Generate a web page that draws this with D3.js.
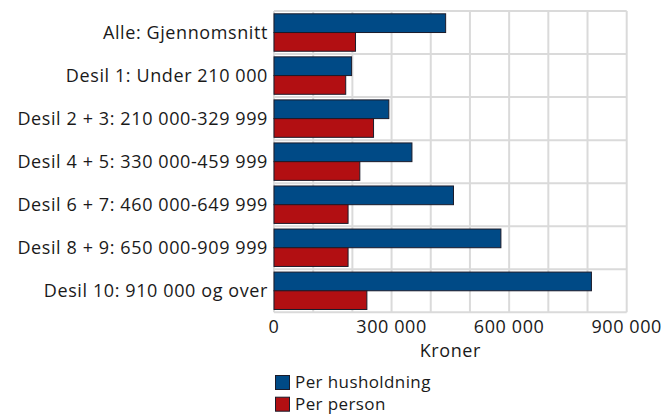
<!DOCTYPE html>
<html><head><meta charset="utf-8">
<script src="https://cdn.jsdelivr.net/npm/d3@7"></script>
<style>
body{margin:0;background:#fff;}
text{font-family:"Open Sans","Noto Sans",sans-serif;fill:#1a1a1a;letter-spacing:0.6px;}
</style></head><body>
<svg id="c" width="664" height="415"></svg>
<script>
const categories = ["Alle: Gjennomsnitt","Desil 1: Under 210 000","Desil 2 + 3: 210 000-329 999","Desil 4 + 5: 330 000-459 999","Desil 6 + 7: 460 000-649 999","Desil 8 + 9: 650 000-909 999","Desil 10: 910 000 og over"];
const perHusholdning = [438000,198000,293000,352000,458000,579000,810000];
const perPerson = [208000,183000,254000,219000,189000,189000,237000];
const seriesNames = ["Per husholdning","Per person"];
const tickValues = [0,300000,600000,900000];
const colors = ["#004a86","#b20f12"];

const svg = d3.select("#c");
const L=274, R=626.7, T=11, B=312.3;
const FS = 18;
const x = d3.scaleLinear().domain([0,900000]).range([L,R]);
const y = d3.scaleBand().domain(categories).range([T,B]).paddingInner(0).paddingOuter(0);
const sub = d3.scaleBand().domain(seriesNames).range([0,y.bandwidth()]).paddingInner(0).paddingOuter(0.15);

const g = svg.append("g");
// grid
g.selectAll(".vg").data(d3.range(0,900001,100000)).enter().append("line")
 .attr("x1",d=>x(d)).attr("x2",d=>x(d)).attr("y1",T).attr("y2",B)
 .attr("stroke","#dadada").attr("stroke-width",2);
g.selectAll(".hg").data(d3.range(categories.length+1)).enter().append("line")
 .attr("x1",L).attr("x2",R).attr("y1",i=>T+i*y.step()).attr("y2",i=>T+i*y.step())
 .attr("stroke","#dadada").attr("stroke-width",2);

const data = [perHusholdning, perPerson];
data.forEach((vals,si)=>{
  g.selectAll(".b"+si).data(vals).enter().append("rect")
   .attr("x",x(0)).attr("y",(d,i)=>y(categories[i])+sub(seriesNames[si]))
   .attr("width",d=>x(d)-x(0)).attr("height",sub.bandwidth())
   .attr("fill",colors[si]).attr("stroke","#1b1b2a").attr("stroke-width",1);
});

// category labels
g.selectAll(".cl").data(categories).enter().append("text")
 .attr("x",L-6).attr("y",d=>y(d)+y.bandwidth()/2).attr("dy","0.35em")
 .attr("text-anchor","end").attr("font-size",FS).text(d=>d);

// x tick labels
const fmt = v => v===0 ? "0" : d3.format(",")(v).replace(/,/g," ");
g.selectAll(".tl").data(tickValues).enter().append("text")
 .attr("x",d=>x(d)).attr("y",327).attr("dy","0.35em").attr("text-anchor","middle")
 .attr("font-size",FS).text(fmt);
g.append("text").attr("x",(L+R)/2).attr("y",351).attr("dy","0.35em")
 .attr("text-anchor","middle").attr("font-size",FS).text("Kroner");

// legend
seriesNames.forEach((s,i)=>{
  const ly = 375 + i*21.7;
  g.append("rect").attr("x",275.5).attr("y",ly+0.5).attr("width",14).attr("height",14)
   .attr("fill",colors[i]).attr("stroke","#1b1b2a").attr("stroke-width",1);
  g.append("text").attr("x",295).attr("y",ly+7.5).attr("dy","0.35em").attr("font-size",17)
   .style("letter-spacing","0.4px").text(s);
});
</script></body></html>
